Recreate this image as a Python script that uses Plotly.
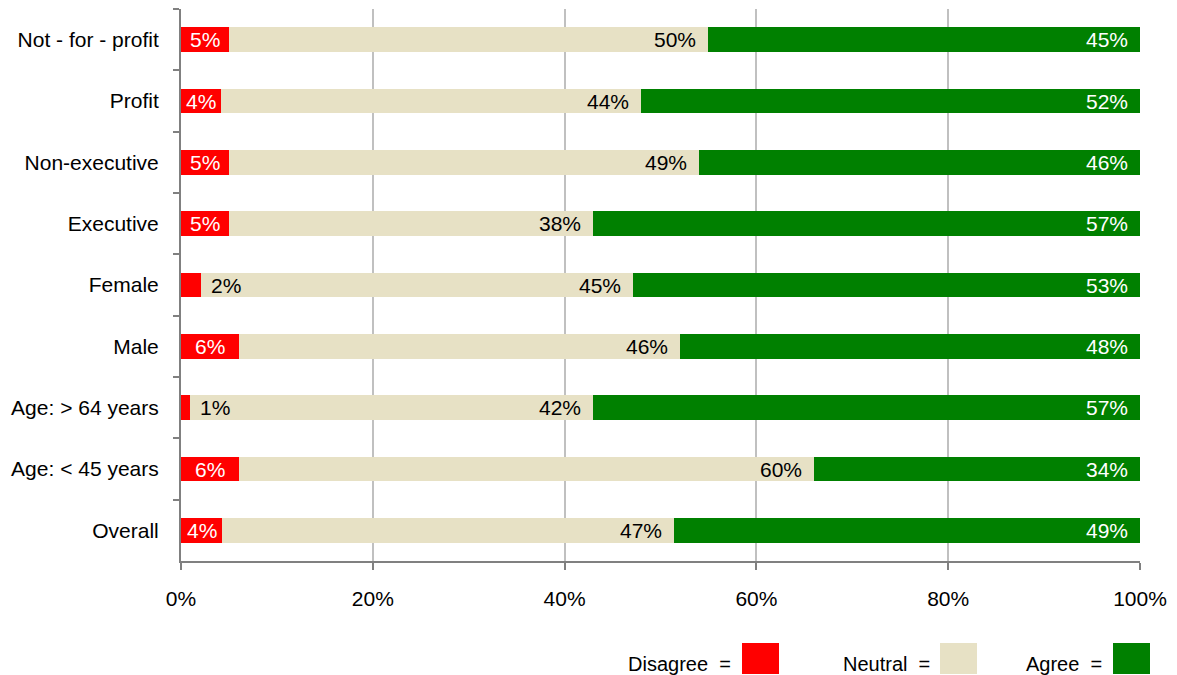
import plotly.graph_objects as go
import numpy as np

categories = ["Not - for - profit", "Profit", "Non-executive", "Executive", "Female",
              "Male", "Age: > 64 years", "Age: < 45 years", "Overall"]
disagree = [5, 4.2, 5, 5, 2.1, 6, 0.9, 6, 4.3]
neutral = [50, 43.8, 49, 38, 45, 46, 42.1, 60, 47.1]
agree = [45, 52, 46, 57, 52.9, 48, 57, 34, 48.6]
series_names = ["Disagree", "Neutral", "Agree"]
colors = ["#FF0000", "#E7E1C5", "#008000"]
text_colors = ["white", "black", "white"]
xticks = [0, 20, 40, 60, 80, 100]
xtick_labels = ["0%", "20%", "40%", "60%", "80%", "100%"]

FONT = "Liberation Sans"
FS = 21
W, H = 1177, 675
L, R, T, B = 181, 37, 9, 114
PW, PH = W - L - R, H - T - B

fig = go.Figure()
series = [disagree, neutral, agree]
for name, vals, col in zip(series_names, series, colors):
    fig.add_trace(go.Bar(y=categories, x=vals, name=name, orientation="h",
                         marker=dict(color=col, line=dict(width=0)),
                         showlegend=False, hoverinfo="x+name"))

# value labels
cum = np.zeros(len(categories))
annotations = []
for k, (vals, tc) in enumerate(zip(series, text_colors)):
    vals = np.array(vals, dtype=float)
    end = cum + vals
    for i, cat in enumerate(categories):
        label = f"{round(vals[i]):.0f}%"
        if vals[i] < 3:
            annotations.append(dict(x=end[i], y=cat, xref="x", yref="y", text=label,
                                    showarrow=False, xanchor="left", xshift=8,
                                    font=dict(color="black", size=FS, family=FONT)))
        elif k == 0:
            annotations.append(dict(x=(cum[i] + end[i]) / 2, y=cat, xref="x", yref="y",
                                    text=label, showarrow=False, xanchor="center",
                                    font=dict(color=tc, size=FS, family=FONT)))
        else:
            annotations.append(dict(x=end[i], y=cat, xref="x", yref="y", text=label,
                                    showarrow=False, xanchor="right", xshift=-10,
                                    font=dict(color=tc, size=FS, family=FONT)))
    cum = end

# custom legend: text then coloured square (pixel positions -> paper coords)
def px_x(p):
    return (p - L) / PW

def px_y(p):
    return (H - B - p) / PH

leg_text_x = [733, 932, 1104]
leg_box_x = [742, 940, 1113]
shapes = []
for name, tx, bx, col in zip(series_names, leg_text_x, leg_box_x, colors):
    annotations.append(dict(x=px_x(tx), y=px_y(664), xref="paper", yref="paper",
                            text=f"{name}  =", showarrow=False, xanchor="right",
                            yanchor="middle", font=dict(size=FS - 1, color="black", family=FONT)))
    shapes.append(dict(type="rect", xref="paper", yref="paper",
                       x0=px_x(bx), x1=px_x(bx + 37),
                       y0=px_y(674), y1=px_y(643),
                       fillcolor=col, line=dict(width=0)))

fig.update_layout(
    barmode="stack", bargap=0.6,
    width=W, height=H,
    margin=dict(l=L, r=R, t=T, b=B, autoexpand=False),
    paper_bgcolor="white", plot_bgcolor="white",
    font=dict(family=FONT, size=FS, color="black"),
    annotations=annotations, shapes=shapes,
    xaxis=dict(range=[0, 100], tickvals=xticks, ticktext=xtick_labels,
               showgrid=True, gridcolor="#C0C0C0", gridwidth=1.5,
               showline=True, linecolor="#808080", linewidth=2,
               ticks="outside", ticklen=7, tickcolor="#808080", tickwidth=2,
               ticklabelstandoff=11, zeroline=False,
               tickfont=dict(size=FS, family=FONT)),
    yaxis=dict(autorange="reversed", showline=True, linecolor="#808080", linewidth=2,
               ticks="outside", ticklen=6, tickcolor="#808080", tickwidth=2,
               tickson="boundaries", showgrid=False, ticklabelstandoff=16,
               tickfont=dict(size=FS, family=FONT)),
)

fig.write_html("out.html", config={"displayModeBar": False},
               post_script="document.body.style.margin='0';document.body.style.overflow='hidden';")
